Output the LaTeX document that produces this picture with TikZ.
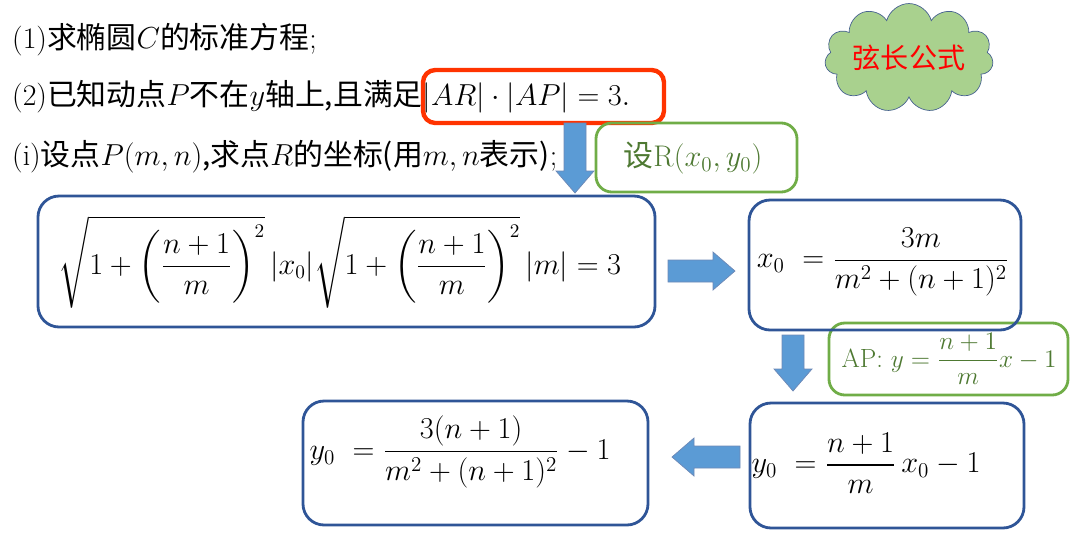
\documentclass[tikz,border=0pt]{standalone}
\usepackage{amsmath}
\usepackage{fontspec}
\newfontfamily\cjk{Noto Sans CJK SC}
\usetikzlibrary{shapes.symbols}
\definecolor{boxblue}{HTML}{2F5597}
\definecolor{arrblue}{HTML}{5B9BD5}
\definecolor{hintgreen}{HTML}{70AD47}
\definecolor{cloudfill}{HTML}{A9D18E}
\definecolor{alertred}{HTML}{FF3300}
\begin{document}
\begin{tikzpicture}[x=0.02cm,y=-0.02cm,font=\fontsize{17}{20}\selectfont,
  step box/.style={draw=boxblue,line width=1.6pt,rounded corners=12pt,inner sep=0},
  hint box/.style={draw=hintgreen,line width=1.6pt,rounded corners=9pt,inner sep=0},
  hint/.style={text=hintgreen!70!black},
  block arrow/.pic={\draw[fill=arrblue,draw=boxblue!70,line width=0.4pt]
    (0,-11)--(#1-22,-11)--(#1-22,-19)--(#1,0)--(#1-22,19)--(#1-22,11)--(0,11)--cycle;}]
% canvas
\useasboundingbox (0,0) rectangle (1080,545);
% question text
\node(q1)[anchor=west] at (6,40) {(1){\cjk 求椭圆}$C${\cjk 的标准方程};};
\node(q2)[anchor=west] at (6,97) {(2){\cjk 已知动点}$P${\cjk 不在}$y${\cjk 轴上,且满足}$|AR|\cdot|AP|=3.$};
\node(q3)[anchor=west] at (6,157) {(i){\cjk 设点}$P(m,n)${\cjk ,求点}$R${\cjk 的坐标(用}$m,n${\cjk 表示)};};
\draw[alertred,line width=2.5pt,rounded corners=7pt] (423,70) rectangle (664,123);
\node(cl)[cloud,cloud puffs=11,aspect=1.5,inner sep=0,draw=boxblue!70!gray,fill=cloudfill,minimum width=96pt,minimum height=62pt] at (909,58) {};
\node[text=red] at (cl) {\cjk\fontsize{16}{19}\selectfont 弦长公式};
% hints
\draw[hint box] (596,123) rectangle (797,192);
\node(h1)[hint] at (693,158) {{\cjk 设}R$(x_0,y_0)$};
\draw[hint box] (829,323) rectangle (1068,395);
\node(h2)[hint,font=\fontsize{15}{18}\selectfont] at (949,359) {AP: $y=\dfrac{n+1}{m}x-1$};
% steps
\draw[step box] (38,196) rectangle (655,327);
\node(s1)[font=\fontsize{16}{19}\selectfont] at (340,262) {$\sqrt{1+\left(\dfrac{n+1}{m}\right)^{2}}\,|x_0|\sqrt{1+\left(\dfrac{n+1}{m}\right)^{2}}\,|m|=3$};
\draw[step box] (749,200) rectangle (1021,330);
\node(s2) at (883,262) {$x_0\ =\dfrac{3m}{m^2+(n+1)^2}$};
\draw[step box] (750,403) rectangle (1024,528);
\node(s3) at (866,463) {$y_0\ =\dfrac{n+1}{m}\,x_0-1$};
\draw[step box] (303,401) rectangle (648,525);
\node(s4) at (460,452) {$y_0\ =\dfrac{3(n+1)}{m^2+(n+1)^2}-1$};
% arrows
\pic[rotate=-90] at (575,123) {block arrow=70};
\pic at (668,271) {block arrow=67};
\pic[rotate=-90] at (793,335) {block arrow=56};
\pic[rotate=180] at (740,457) {block arrow=68};
\end{tikzpicture}
\end{document}
